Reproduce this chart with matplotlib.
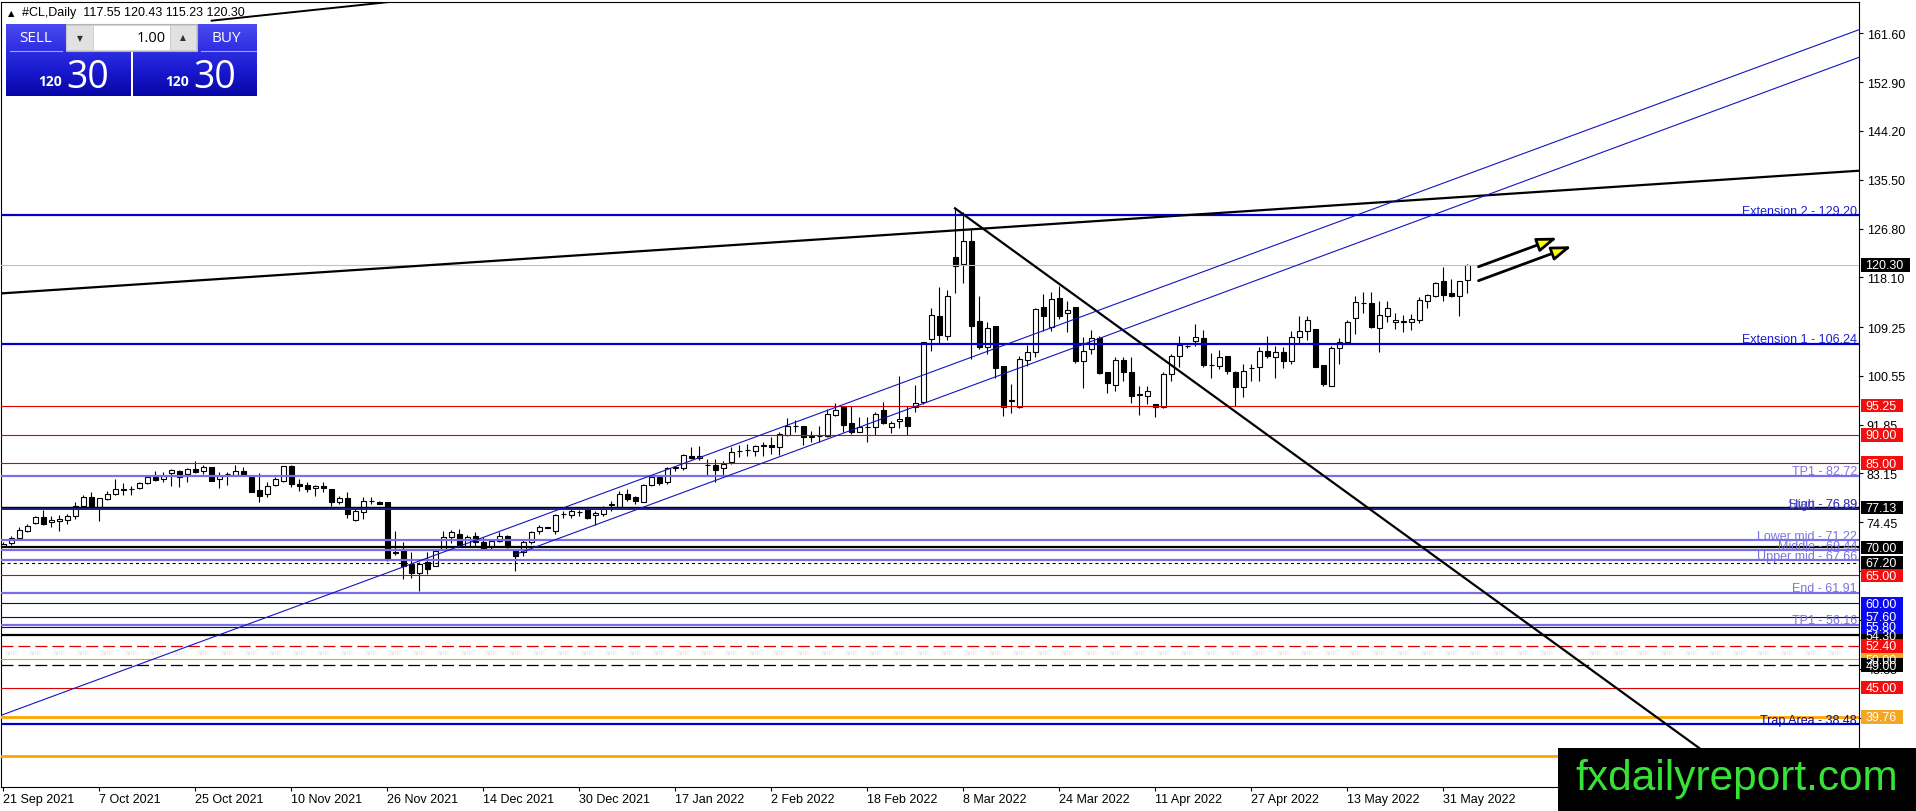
import numpy as np
import pandas as pd
import matplotlib
matplotlib.use("Agg")
import matplotlib.pyplot as plt
from matplotlib.patches import Rectangle, FancyArrowPatch
from matplotlib.transforms import blended_transform_factory, offset_copy
from matplotlib.colors import LinearSegmentedColormap

plt.rcParams['font.family'] = ['Liberation Sans', 'DejaVu Sans']
plt.rcParams['lines.scale_dashes'] = False

# ---------------- data ----------------
symbol = "#CL,Daily"
start_date = "2021-09-21"

opens = [70.3, 70.76, 71.71, 72.96, 74.33, 75.34, 74.5, 74.7, 74.92, 75.64,
         77.42, 78.9, 77.12, 78.6, 79.5, 80.2, 80.3, 80.51, 81.4, 82.47,
         82.17, 83.18, 83.66, 83.06, 83.95, 83.54, 84.25, 82.17, 83.0, 82.95,
         83.66, 82.59, 80.2, 79.5, 81.1, 81.87, 84.55, 81.28, 81.1, 80.51,
         80.86, 80.39, 78.13, 78.72, 74.92, 76.22, 78.2, 78.12, 78.0, 69.0,
         69.7, 67.0, 65.5, 67.3, 66.7, 69.7, 71.77, 72.36, 70.28, 71.95,
         71.0, 69.98, 71.18, 71.95, 69.4, 69.1, 71.0, 72.83, 73.5, 72.95,
         75.9, 75.75, 76.2, 76.7, 75.75, 75.93, 77.6, 77.1, 79.5, 78.9,
         78.12, 81.1, 82.47, 81.58, 84.1, 84.07, 86.32, 85.85, 84.7, 84.65,
         84.07, 85.14, 87.1, 87.35, 87.22, 88.1, 88.22, 87.8, 90.0, 91.6,
         91.55, 89.7, 89.8, 89.77, 93.57, 94.94, 92.15, 90.6, 91.4, 91.5,
         94.52, 91.5, 92.45, 93.16, 94.94, 95.83, 107.12, 111.28, 107.71, 121.67,
         120.49, 124.64, 110.39, 105.63, 109.5, 102.37, 96.0, 94.94, 103.43, 104.86,
         112.76, 109.2, 114.37, 111.76, 112.76, 103.25, 105.34, 107.24, 101.3, 98.92,
         103.43, 101.18, 97.2, 97.02, 95.53, 94.94, 100.88, 104.03, 105.8, 106.82,
         107.24, 102.5, 102.37, 104.03, 101.3, 98.5, 101.9, 102.07, 105.04, 103.85,
         104.74, 103.25, 107.42, 108.6, 108.9, 102.48, 98.8, 105.46, 106.53, 110.8,
         113.5, 113.54, 109.0, 111.16, 110.09, 110.37, 110.21, 110.57, 113.95, 114.84,
         117.4, 115.32, 114.72, 117.55]
highs = [71.0, 72.07, 73.56, 74.15, 75.52, 76.7, 75.5, 75.75, 75.93, 78.13,
         79.32, 79.8, 78.72, 80.09, 82.17, 81.46, 80.98, 81.7, 82.65, 83.66,
         83.48, 83.95, 83.84, 84.07, 85.44, 84.67, 84.25, 83.36, 83.36, 84.67,
         84.25, 82.59, 83.24, 81.7, 82.47, 84.55, 84.67, 82.17, 81.58, 81.1,
         81.7, 80.39, 79.2, 79.8, 77.12, 78.9, 78.9, 78.3, 78.0, 72.95,
         71.0, 69.1, 67.3, 69.1, 69.7, 72.95, 73.13, 73.25, 72.18, 72.78,
         71.77, 71.47, 72.78, 72.18, 69.4, 71.35, 72.95, 73.96, 73.6, 75.93,
         76.52, 77.1, 76.7, 76.8, 76.5, 77.4, 78.3, 80.08, 80.4, 79.2,
         81.28, 82.9, 82.9, 84.25, 84.54, 86.62, 87.8, 88.1, 85.73, 85.73,
         85.44, 87.8, 88.22, 88.4, 88.22, 88.7, 89.6, 90.49, 92.98, 92.74,
         91.55, 90.8, 91.67, 94.64, 95.7, 95.12, 95.24, 93.16, 93.16, 94.05,
         95.83, 92.56, 100.58, 95.24, 98.92, 106.65, 112.59, 116.33, 115.91, 130.4,
         129.7, 126.72, 114.84, 110.09, 109.5, 102.37, 99.1, 104.15, 106.05, 112.58,
         115.14, 115.43, 116.62, 113.95, 112.76, 107.42, 108.78, 107.6, 101.3, 103.85,
         103.85, 103.85, 98.8, 98.8, 95.53, 101.18, 104.45, 107.6, 106.0, 109.79,
         108.78, 104.62, 105.22, 104.03, 101.47, 102.66, 102.66, 105.63, 107.71, 105.93,
         105.63, 108.6, 111.28, 111.28, 108.9, 102.48, 105.93, 107.24, 110.57, 114.72,
         115.44, 115.44, 113.95, 113.95, 111.76, 111.4, 111.58, 114.54, 115.14, 117.34,
         119.89, 117.81, 117.52, 120.43]
lows = [70.0, 70.4, 71.36, 72.67, 74.15, 73.97, 73.56, 72.96, 74.15, 75.04,
        77.3, 77.12, 74.75, 78.49, 79.32, 79.32, 79.32, 80.39, 81.28, 81.87,
        81.58, 80.98, 80.69, 81.58, 83.24, 83.06, 81.87, 80.51, 81.1, 82.77,
        82.95, 79.8, 78.13, 78.9, 80.98, 81.58, 80.69, 80.09, 79.8, 79.2,
        79.8, 77.42, 77.72, 75.16, 74.75, 75.0, 77.7, 77.65, 67.6, 68.6,
        64.35, 64.6, 62.26, 65.2, 66.7, 69.6, 70.76, 70.28, 69.98, 70.28,
        69.57, 69.7, 70.88, 69.8, 65.83, 68.5, 70.58, 72.36, 73.5, 72.36,
        75.15, 75.15, 75.6, 75.03, 73.96, 75.5, 76.5, 76.8, 78.3, 77.7,
        78.0, 80.98, 81.1, 81.28, 83.65, 83.8, 85.73, 85.6, 82.9, 81.58,
        82.9, 84.84, 86.03, 86.32, 86.2, 86.32, 86.62, 86.45, 89.89, 90.49,
        88.22, 88.7, 88.82, 89.6, 93.33, 90.49, 90.18, 90.49, 88.82, 90.0,
        91.97, 90.37, 91.2, 90.0, 94.17, 95.53, 105.04, 106.23, 107.0, 115.32,
        117.1, 103.55, 105.34, 104.45, 100.11, 93.33, 93.93, 94.76, 102.37, 103.85,
        108.6, 108.6, 110.68, 108.43, 102.84, 98.33, 104.45, 100.88, 97.5, 97.91,
        99.7, 95.71, 93.57, 95.53, 93.15, 94.76, 99.7, 102.07, 105.6, 105.8,
        102.07, 100.11, 101.77, 100.88, 95.24, 96.72, 99.69, 99.69, 103.67, 100.11,
        101.89, 102.66, 106.4, 107.0, 102.07, 98.68, 98.68, 102.66, 106.4, 108.0,
        111.75, 109.02, 104.86, 110.21, 108.9, 108.43, 108.78, 109.97, 112.58, 114.66,
        113.95, 114.54, 111.16, 115.23]
closes = [70.6, 71.6, 73.14, 73.85, 75.34, 74.15, 74.8, 75.0, 75.52, 77.42,
          78.9, 77.12, 78.72, 79.5, 80.39, 80.3, 80.4, 81.4, 82.47, 82.05,
          82.77, 83.78, 82.47, 83.95, 83.48, 84.25, 81.87, 82.77, 83.06, 83.66,
          82.95, 79.91, 79.2, 80.98, 82.17, 84.55, 81.28, 80.98, 80.39, 80.86,
          80.51, 78.01, 78.72, 75.93, 76.53, 78.3, 78.3, 77.7, 67.9, 69.2,
          66.7, 65.5, 67.0, 66.1, 69.4, 71.77, 72.65, 70.4, 71.77, 71.0,
          69.7, 71.18, 71.95, 69.98, 68.38, 70.88, 72.78, 73.67, 73.55, 75.75,
          75.95, 76.52, 76.25, 75.15, 76.1, 76.8, 77.7, 79.5, 78.6, 78.3,
          81.1, 82.47, 81.4, 84.07, 84.3, 86.44, 85.85, 86.32, 84.65, 83.8,
          84.84, 86.92, 87.2, 87.4, 88.0, 88.12, 87.8, 90.18, 91.67, 91.67,
          89.6, 89.8, 89.9, 93.75, 94.52, 91.8, 90.6, 91.43, 91.5, 93.75,
          92.15, 92.09, 92.86, 91.67, 95.7, 106.53, 111.4, 107.83, 114.84, 120.19,
          124.64, 109.37, 105.63, 109.0, 101.89, 94.94, 96.3, 103.55, 104.74, 112.46,
          111.16, 114.25, 111.16, 112.34, 103.25, 105.04, 107.24, 101.06, 99.28, 103.43,
          101.3, 96.9, 97.25, 97.8, 94.94, 100.88, 104.03, 106.05, 105.9, 107.42,
          102.48, 102.48, 103.85, 101.47, 98.5, 101.47, 101.95, 105.04, 104.03, 104.86,
          103.25, 107.42, 108.6, 110.5, 102.07, 99.1, 105.46, 106.53, 110.21, 113.65,
          113.55, 109.2, 111.4, 112.58, 110.5, 110.09, 110.68, 114.13, 114.96, 117.1,
          114.96, 114.72, 117.4, 120.30]

# right price scale
ytick_values = [161.60, 152.90, 144.20, 135.50, 126.80, 118.10, 109.25, 100.55,
                91.85, 83.15, 74.45, 65.75, 57.05, 48.35, 39.65, 30.95]

# horizontal level lines
hline_prices = [129.20, 120.30, 106.24, 95.25, 90.00, 85.00, 82.72, 77.13, 76.89,
                71.22, 70.00, 69.44, 67.66, 67.20, 65.00, 61.91, 60.00, 57.60,
                56.16, 55.80, 54.30, 52.40, 50.00, 49.00, 45.00, 39.76, 38.48, 32.84]
hline_kinds = ['ext', 'cur', 'ext', 'red', 'red', 'red', 'lav', 'blk', 'navy',
               'lav', 'blk2', 'lav', 'lav', 'dot', 'red', 'lav', 'blue', 'blue',
               'lav', 'blue', 'blk2', 'reddash', 'orthin', 'blkdash', 'red', 'or', 'ext', 'or']

# text labels on lines
line_label_texts = ["Extension 2 - 129.20", "Extension 1 - 106.24", "TP1 - 82.72",
                    "Start - 76.89", "High - 76.89", "Lower mid - 71.22", "Middle - 69.44",
                    "Upper mid - 67.66", "End - 61.91", "TP1 - 56.16", "Trap Area - 38.48"]
line_label_prices = [129.20, 106.24, 82.72, 76.89, 76.89, 71.22, 69.44, 67.66, 61.91, 56.16, 38.48]
line_label_kinds = ['ext', 'ext', 'lav', 'lav', 'navy', 'lav', 'lav', 'lav', 'lav', 'lav', 'trap']

# price boxes on the right scale (drawn in this order)
box_prices = [50.00, 54.30, 120.30, 95.25, 90.00, 85.00, 77.13, 70.00, 67.20, 65.00,
              60.00, 57.60, 55.80, 52.40, 49.00, 45.00, 39.76]
box_kinds = ['or', 'blk', 'blk', 'red', 'red', 'red', 'blk', 'blk', 'blk', 'red',
             'blue', 'blue', 'blue', 'red', 'blk', 'red', 'or']

# trend lines (bar index, price)
trend_black_long = [(-0.41, 115.23), (231.96, 137.11)]
trend_black_top = [(26.05, 163.85), (60.0, 168.94)]
trend_black_down = [(118.96, 130.41), (262.0, -17.5)]
channel_upper = [(-0.41, 39.98), (231.96, 162.24)]
channel_lower = [(63.96, 68.69), (231.96, 157.32)]
arrows = [((184.4, 120.0), (194.25, 125.17)), ((184.4, 117.51), (196.05, 123.64))]
watermark = "fxdailyreport.com"

# ---------------- figure ----------------
W, H = 1916, 812
fig = plt.figure(figsize=(W / 100, H / 100), dpi=100)
AXL, AXR, AXT, AXB = 1.0, 1859.0, 2.7, 787.7
ax = fig.add_axes([AXL / W, 1 - AXB / H, (AXR - AXL) / W, (AXB - AXT) / H])
fig.patch.set_facecolor('white')

n = len(opens)
x = np.arange(n)
o = np.array(opens); h = np.array(highs); l = np.array(lows); c = np.array(closes)
up = c >= o

ax.vlines(x, l, h, colors='black', lw=0.8, zorder=2)
body_h = np.maximum(np.abs(c - o), 0.04)
ax.bar(x, body_h, bottom=np.minimum(o, c), width=0.6,
       color=np.where(up, 'white', 'black'), edgecolor='black', linewidth=0.8, zorder=3)

px_per_unit = 5.611
ax.set_xlim((AXL - 3.3) / 8.0, (AXR - 3.3) / 8.0)
ax.set_ylim(161.6 - (AXB - 34.3) / px_per_unit, 161.6 + (34.3 - AXT) / px_per_unit)

styles = {
    'ext': dict(color='#0000CD', lw=1.6, ls='-'),
    'cur': dict(color='#C0C0C0', lw=0.8, ls='-'),
    'red': dict(color='#E00000', lw=0.8, ls='-'),
    'lav': dict(color='#7B6FE6', lw=1.6, ls='-'),
    'blk': dict(color='#000000', lw=1.0, ls='-'),
    'navy': dict(color='#1E1E78', lw=1.4, ls='-'),
    'blk2': dict(color='#000000', lw=1.6, ls='-'),
    'dot': dict(color='#000000', lw=0.8, ls=(0, (2.2, 2.2))),
    'blue': dict(color='#0000B4', lw=0.8, ls='-'),
    'reddash': dict(color='#E00000', lw=0.9, ls=(0, (8.6, 3.6))),
    'orthin': dict(color='#E8A800', lw=0.8, ls='-'),
    'blkdash': dict(color='#000000', lw=0.9, ls=(0, (8.6, 3.6))),
    'or': dict(color='#FFA500', lw=2.0, ls='-'),
}
for p, k in zip(hline_prices, hline_kinds):
    st = styles[k]
    ax.axhline(p, color=st['color'], lw=st['lw'], ls=st['ls'], zorder=4)

# faint repeated marks
for xi in range(1, 232, 3):
    ax.text(xi, 51.3, 'ann', fontsize=5.5, color='#E2E2E2', ha='center', va='center', zorder=1)

def seg(pts, **kw):
    (x0, y0), (x1, y1) = pts
    ax.plot([x0, x1], [y0, y1], **kw)

seg(trend_black_long, color='black', lw=1.6, zorder=5, solid_capstyle='butt')
seg(trend_black_top, color='black', lw=1.4, zorder=5)
seg(trend_black_down, color='black', lw=1.6, zorder=5)
seg(channel_upper, color='#1414C0', lw=0.8, zorder=5)
seg(channel_lower, color='#1414C0', lw=0.8, zorder=5)

for (p0, p1) in arrows:
    ar = FancyArrowPatch(p0, p1, arrowstyle='-|>,head_length=12,head_width=4.2',
                         mutation_scale=1, lw=2.0, edgecolor='black',
                         facecolor='#FFFF00', zorder=6, shrinkA=0, shrinkB=0)
    ax.add_patch(ar)

# spines & ticks
for s in ax.spines.values():
    s.set_linewidth(0.8)
    s.set_color('black')
ax.yaxis.tick_right()
ax.set_yticks(ytick_values)
ax.set_yticklabels([f"{v:.2f}" for v in ytick_values])
ax.tick_params(axis='y', direction='out', length=3, width=0.8, pad=2.6, labelsize=9)

dates = pd.bdate_range(start_date, periods=n)
xt = list(range(0, n, 12))
ax.set_xticks(xt)
ax.set_xticklabels([f"{dates[i].day} {dates[i].strftime('%b %Y')}" for i in xt])
ax.tick_params(axis='x', direction='out', length=3, width=0.8, pad=1.5, labelsize=9)
for lbl in ax.get_xticklabels():
    lbl.set_horizontalalignment('left')

# line labels
trans = blended_transform_factory(ax.transAxes, ax.transData)
trans_up = offset_copy(trans, fig=fig, x=0, y=1.5, units='dots')
label_colors = {'ext': '#1E1ED2', 'lav': '#7C74DE', 'navy': '#3434B4', 'trap': '#0A0AA0'}
right_frac = (1857.0 - AXL) / (AXR - AXL)
for t, p, k in zip(line_label_texts, line_label_prices, line_label_kinds):
    ax.text(right_frac, p, t, transform=trans_up, ha='right', va='baseline',
            fontsize=9, color=label_colors[k], zorder=6, alpha=0.9 if k == 'navy' else 1.0)

# price boxes
box_colors = {'red': '#F20F0F', 'blk': '#000000', 'blue': '#0A0AF0', 'or': '#F5A623'}
def fx(px):
    return (px - AXL) / (AXR - AXL)
box_h = 13.3 / px_per_unit
for p, k in zip(box_prices, box_kinds):
    label = f"{p:.2f}"
    right_px = 1903.0 + (6.9 if len(label) > 5 else 0)
    ax.add_patch(Rectangle((fx(1860.7), p - box_h / 2), fx(right_px) - fx(1860.7), box_h,
                           transform=trans, facecolor=box_colors[k], edgecolor='none',
                           clip_on=False, zorder=7))
    ax.text(fx(1865.5), p - 0.08, label, transform=trans, ha='left', va='center',
            fontsize=9, color='white', clip_on=False, zorder=8)

# ---------------- overlay (panel, header, watermark) ----------------
ov = fig.add_axes([0, 0, 1, 1], zorder=10)
ov.axis('off')

last = f"{closes[-1]:.2f}"
big_int, big_dec = last.split('.')

ov.text(11, 13.3, '\u25B2', fontsize=6, family='DejaVu Sans', ha='center', va='center')
ov.text(21.7, 13.3, f"{symbol}  {opens[-1]:.2f} {highs[-1]:.2f} {lows[-1]:.2f} {closes[-1]:.2f}",
        fontsize=9, va='center', ha='left')

grad = np.linspace(0, 1, 200).reshape(-1, 1)
cmap = LinearSegmentedColormap.from_list('panel', ['#4A4AEE', '#3030E4', '#1818CC', '#0606A6'])
for (x0, x1) in [(6.0, 130.7), (132.7, 256.7)]:
    ov.imshow(grad, extent=[x0, x1, 96.7, 25.0], cmap=cmap, aspect='auto',
              interpolation='bilinear', zorder=1)
ov.set_xlim(0, W)
ov.set_ylim(H, 0)

ov.add_patch(Rectangle((65.7, 25.0), 131.0, 26.7, facecolor='#F2F2F2', edgecolor='#B4B4B4', lw=0.8, zorder=2))
ov.add_patch(Rectangle((66.2, 25.5), 26.5, 25.7, facecolor='#E1E1E1', edgecolor='#C8C8C8', lw=0.6, zorder=3))
ov.add_patch(Rectangle((92.7, 25.5), 77.3, 25.7, facecolor='white', edgecolor='#D0D0D0', lw=0.6, zorder=3))
ov.add_patch(Rectangle((170.0, 25.5), 26.2, 25.7, facecolor='#E1E1E1', edgecolor='#C8C8C8', lw=0.6, zorder=3))
ov.text(80, 38.5, '\u25BC', fontsize=5.5, family='DejaVu Sans', color='#303030', ha='center', va='center', zorder=4)
ov.text(183, 38.0, '\u25B2', fontsize=5.5, family='DejaVu Sans', color='#303030', ha='center', va='center', zorder=4)
ov.text(165.7, 38.0, '1.00', fontsize=10.5, family='Open Sans', color='black', ha='right', va='center', zorder=4)

ov.plot([10, 62], [51.7, 51.7], color='#A0A0FF', lw=0.8, zorder=3)
ov.plot([201, 256], [51.7, 51.7], color='#A0A0FF', lw=0.8, zorder=3)
ov.text(35.3, 38.8, 'SELL', fontsize=11, family='Open Sans', color='white', ha='center', va='center', zorder=4)
ov.text(226.0, 38.8, 'BUY', fontsize=11, family='Open Sans', color='white', ha='center', va='center', zorder=4)
for xs, xb in [(38.3, 66.5), (165.0, 193.0)]:
    ov.text(xs, 86.0, big_int, fontsize=10, fontweight='bold', family='Open Sans', color='white',
            ha='left', va='baseline', zorder=4)
    ov.text(xb, 88.0, big_dec, fontsize=27, family='Open Sans', color='white',
            ha='left', va='baseline', zorder=4)

ov.add_patch(Rectangle((1558, 749.3), 358, 62.7, facecolor='black', edgecolor='none', zorder=5))
ov.text(1575, 790, watermark, fontsize=30.5, color='#36E236', ha='left', va='baseline', zorder=6)

fig.savefig('out.png', dpi=100)
